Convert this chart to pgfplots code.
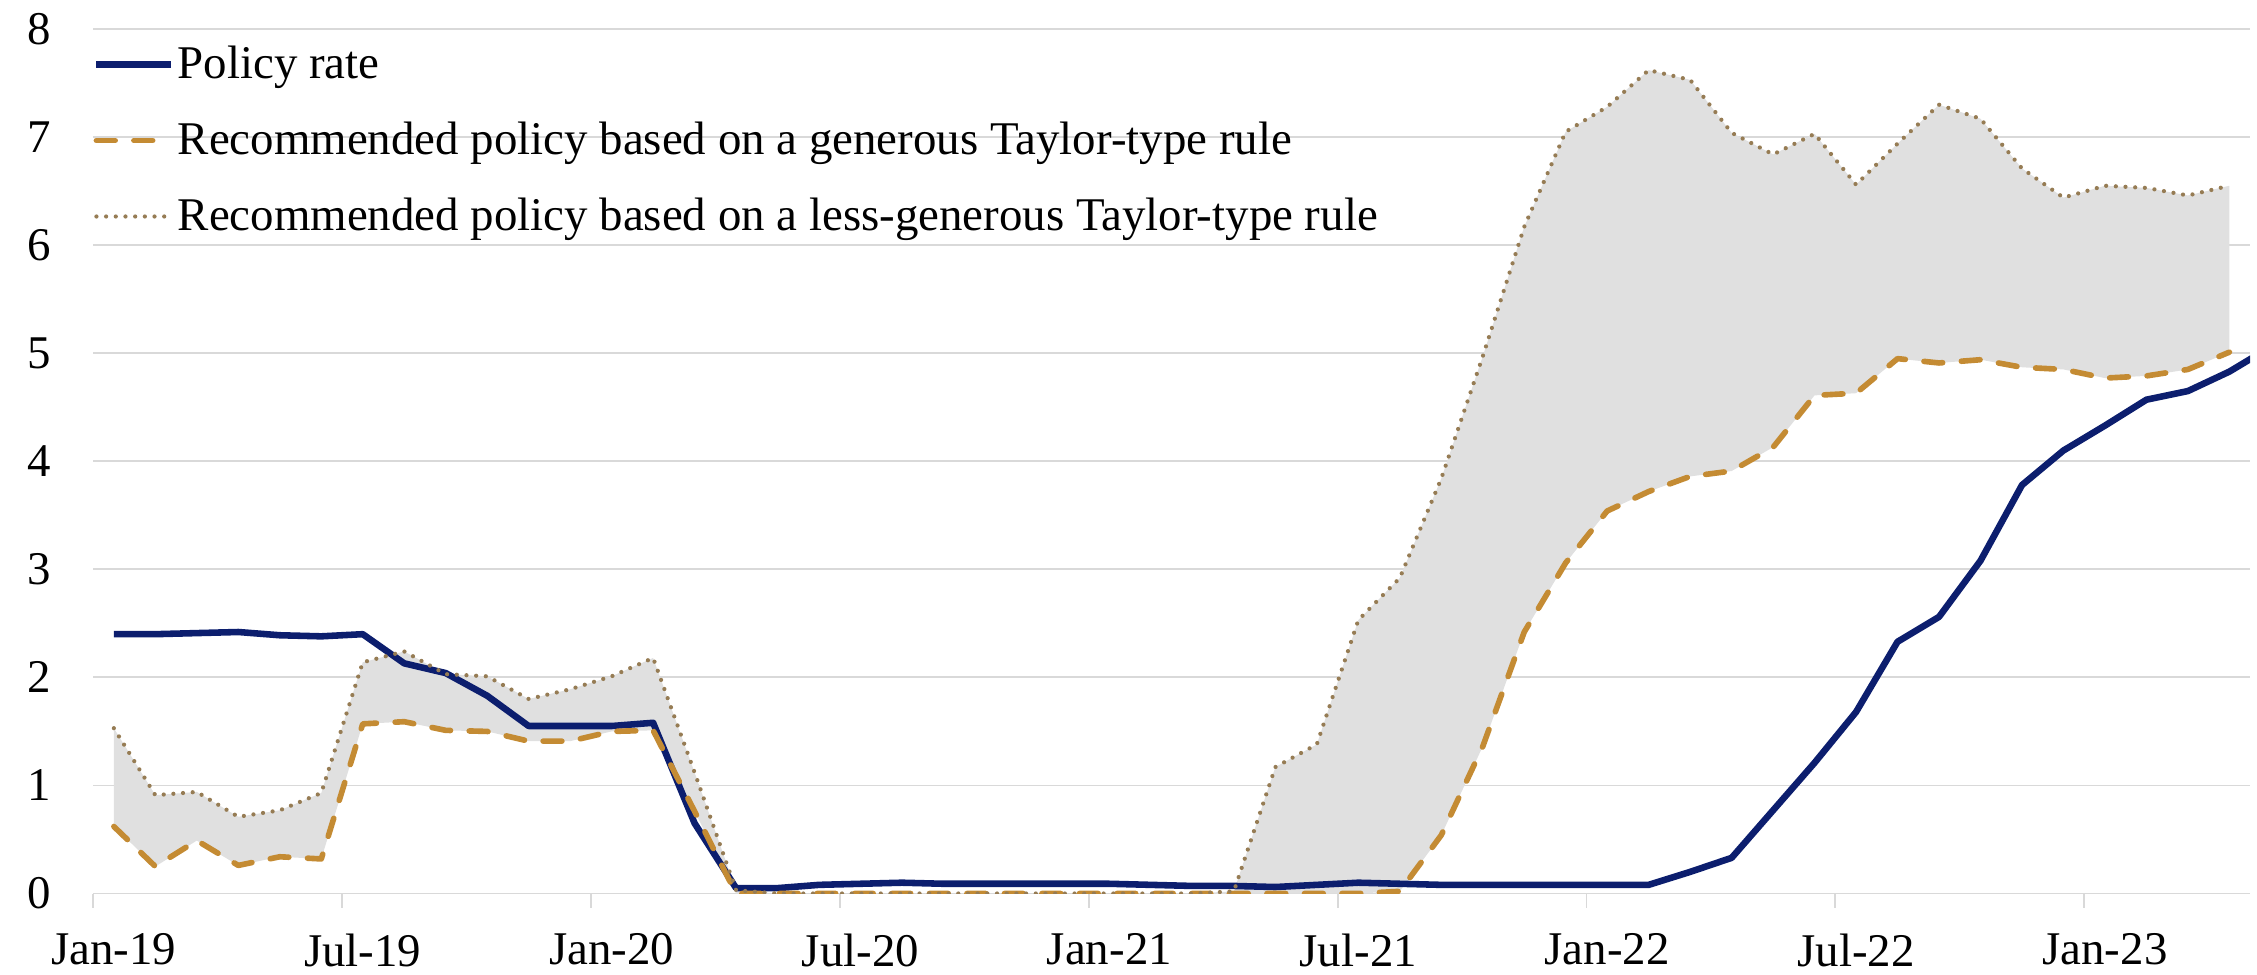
\documentclass[border=0pt]{standalone}
\usepackage{fontspec}
\setmainfont{Liberation Serif}
\usepackage{pgfplots}
\pgfplotsset{compat=1.18}
\usepackage{pgfplotstable}
\usepgfplotslibrary{fillbetween}

\definecolor{navy}{RGB}{12,30,110}
\definecolor{gold}{RGB}{196,139,51}
\definecolor{dotc}{RGB}{150,124,84}
\definecolor{gridc}{RGB}{217,217,217}
\definecolor{shade}{RGB}{224,224,224}

\pgfplotstableread{
i rate
0 2.40
1 2.40
2 2.41
3 2.42
4 2.39
5 2.38
6 2.40
7 2.13
8 2.04
9 1.83
10 1.55
11 1.55
12 1.55
13 1.58
14 0.65
15 0.05
16 0.05
17 0.08
18 0.09
19 0.10
20 0.09
21 0.09
22 0.09
23 0.09
24 0.09
25 0.08
26 0.07
27 0.07
28 0.06
29 0.08
30 0.10
31 0.09
32 0.08
33 0.08
34 0.08
35 0.08
36 0.08
37 0.08
38 0.20
39 0.33
40 0.77
41 1.21
42 1.68
43 2.33
44 2.56
45 3.08
46 3.78
47 4.10
48 4.33
49 4.57
50 4.65
51 4.83
52 5.06
}\policy

\pgfplotstableread{
i gen less
0 0.62 1.53
1 0.25 0.91
2 0.49 0.94
3 0.26 0.71
4 0.34 0.77
5 0.32 0.93
6 1.57 2.14
7 1.59 2.24
8 1.51 2.03
9 1.50 2.01
10 1.41 1.80
11 1.41 1.89
12 1.50 2.01
13 1.51 2.18
14 0.76 1.12
15 0.00 0.03
16 0.00 0.00
17 0.00 0.00
18 0.00 0.00
19 0.00 0.00
20 0.00 0.00
21 0.00 0.00
22 0.00 0.00
23 0.00 0.00
24 0.00 0.00
25 0.00 0.00
26 0.00 0.00
27 0.00 0.02
28 0.00 1.17
29 0.00 1.38
30 0.00 2.53
31 0.02 2.92
32 0.54 3.84
33 1.36 4.97
34 2.42 6.17
35 3.06 7.05
36 3.54 7.28
37 3.72 7.62
38 3.86 7.53
39 3.91 7.04
40 4.13 6.84
41 4.61 7.03
42 4.63 6.56
43 4.95 6.94
44 4.91 7.30
45 4.94 7.17
46 4.87 6.71
47 4.85 6.44
48 4.77 6.55
49 4.79 6.53
50 4.85 6.46
51 5.01 6.55
}\rules

\begin{document}
\begin{tikzpicture}
\begin{axis}[
  at={(0,0)}, anchor=south west,
  scale only axis, width=690.2pt, height=276.6pt,
  xmin=-0.5, xmax=51.5, ymin=0, ymax=8,
  set layers,
  axis line style={draw=none},
  ytick={0,1,...,8}, ymajorgrids,
  grid style={gridc, line width=0.6pt},
  major tick length=0pt,
  tick align=outside,
  xtick={0,6,...,48},
  xticklabels={Jan-19,Jul-19,Jan-20,Jul-20,Jan-21,Jul-21,Jan-22,Jul-22,Jan-23},
  extra x ticks={-0.5,5.5,...,47.5},
  extra x tick labels={},
  extra x tick style={major tick length=4.6pt, tick style={draw=gridc, line width=0.6pt}, grid=none},
  xtick pos=bottom, ytick pos=left,
  /pgf/number format/assume math mode=true,
  tick label style={font=\fontsize{15}{17}\selectfont},
  yticklabel style={inner sep=0pt, xshift=-13.4pt},
  xticklabel style={inner sep=0pt, yshift=-12.6pt},
  legend style={at={(0,1)}, anchor=north west, yshift=-4.4pt, draw=none, fill=none,
    inner sep=0pt, outer sep=0pt, row sep=10.4pt,
    font=\fontsize{15}{17}\selectfont, nodes={inner sep=1pt}},
  legend cell align=left,
  legend image code/.code={\draw[#1] (0pt,0pt) -- (24pt,0pt);},
]
\addplot[navy, line width=2.1pt, line join=round] table[x=i,y=rate]{\policy};
\addlegendentry{Policy rate}
\addplot[name path=gen, gold, line width=1.8pt, dash pattern=on 6pt off 6pt, line cap=round, line join=round] table[x=i,y=gen]{\rules};
\addlegendentry{Recommended policy based on a generous Taylor-type rule}
\addplot[name path=less, dotc, line width=1.35pt, dash pattern=on 0pt off 3.1pt, line cap=round, line join=round] table[x=i,y=less]{\rules};
\addlegendentry{Recommended policy based on a less-generous Taylor-type rule}
\addplot[draw=none, fill=shade, on layer=axis background, forget plot] fill between[of=less and gen];
\end{axis}
\pgfresetboundingbox
\path[use as bounding box] (-29.8pt,-25.8pt) rectangle (692.4pt,285.9pt);
\end{tikzpicture}
\end{document}
